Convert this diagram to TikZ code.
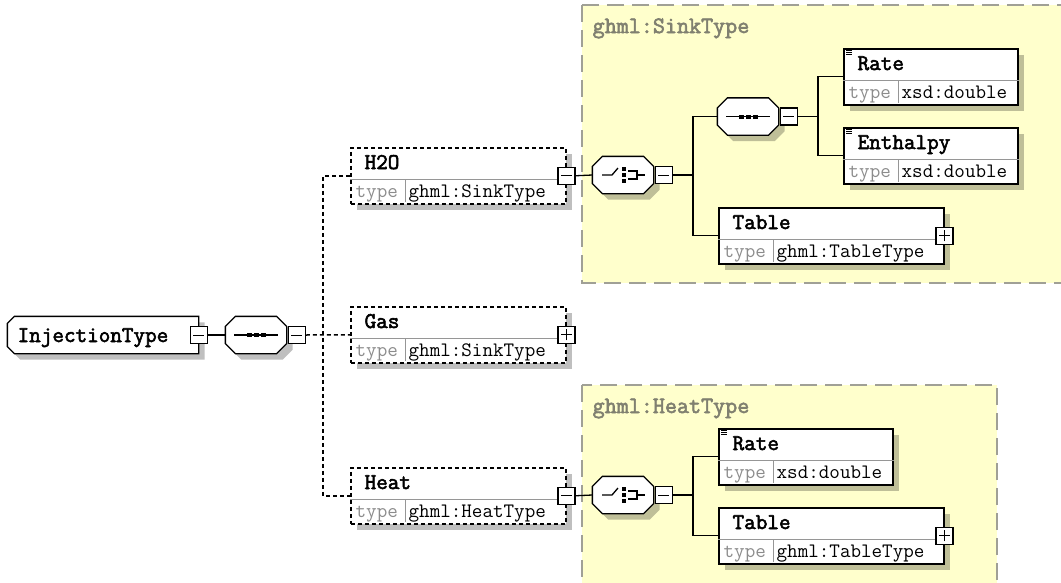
\documentclass[tikz,border=0pt]{standalone}
\usepackage{fontspec}
\newfontfamily\nmfont{Latin Modern Mono}[FakeBold=2.5]
\usetikzlibrary{calc,shadows}
\definecolor{tyellow}{RGB}{255,255,204}
\definecolor{tedge}{RGB}{160,160,150}
\definecolor{tlabc}{RGB}{128,128,112}
\definecolor{tgray}{RGB}{140,140,140}
\definecolor{splitc}{RGB}{150,150,150}

\begin{document}
\begin{tikzpicture}
      [x=1pt,y=-1pt,line width=1.3pt
      ,shad/.style={drop shadow={shadow xshift=6pt,shadow yshift=-6pt,opacity=.25,fill=black}}
      ,el/.style={rectangle,draw,fill=white,shad,anchor=north west,inner sep=0,minimum height=56pt}
      ,optel/.style={el,line width=1.5pt,dash pattern=on 4pt off 3pt}
      ,reqel/.style={el,line width=1.6pt}
      ,comp/.style={rectangle,inner sep=0,minimum width=60pt,minimum height=36pt}
      ,octo/.style={draw,fill=white,shad}
      ,btn/.style={rectangle,draw,fill=white,inner sep=0,minimum size=17pt}
      ,btnm/.style={btn,path picture={\draw[line width=1pt] ([xshift=3pt]path picture bounding box.west)
                   -- ([xshift=-3pt]path picture bounding box.east);}}
      ,btnp/.style={btnm,postaction={path picture={\draw[line width=1pt] ([yshift=3pt]path picture bounding box.south)
                   -- ([yshift=-3pt]path picture bounding box.north);}}}
      ,optl/.style={line width=1.5pt,dash pattern=on 4pt off 3pt}
      ,splitl/.style={draw=splitc,line width=1pt}
      ,nm/.style={font=\nmfont\fontsize{22.5pt}{22.5pt}\selectfont,inner sep=0,anchor=base west}
      ,tv/.style={font=\ttfamily\fontsize{20.5pt}{20.5pt}\selectfont,inner sep=0,anchor=base west}
      ,tp/.style={tv,text=tgray}
      ,tlab/.style={font=\nmfont\fontsize{23.4pt}{23.4pt}\selectfont,text=tlabc,inner sep=0,anchor=base west}
      ,tbox/.style={draw=tedge,fill=tyellow,line width=1.2pt,dash pattern=on 17pt off 8pt}]
        \useasboundingbox (0,0) rectangle (1061,582);
        % type boxes
        \draw[tbox] (582,5) rectangle (1075,283);
        \node[tlab] (sinkl) at (592,33) {ghml:SinkType};
        \draw[tbox] (582,385) rectangle (997,600);
        \node[tlab] (heatl) at (592,413) {ghml:HeatType};
        % root and compositors
        \node[comp,minimum width=190pt] (inj) at (103,335) {};
        \draw[octo] ($(inj.north west)+(7,0)$) -- (inj.north east) -- (inj.south east)
              -- ($(inj.south west)+(7,0)$) -- ($(inj.south west)+(0,-7)$)
              -- ($(inj.north west)+(0,7)$) -- cycle;
        \node[nm] (inj-n) at (17,342) {InjectionType};
        \node[btnm] (inj-b) at (inj.east) {};
        \node[comp] (seq0) at (256,335) {};
        \node[comp] (ch1) at (623,175) {};
        \node[comp] (seq1) at (748,116.5) {};
        \node[comp] (ch2) at (623,495) {};
        \foreach \c in {seq0,ch1,seq1,ch2}{
          \draw[octo] ($(\c.north west)+(10,0)$) -- ($(\c.north east)+(-10,0)$)
                -- ($(\c.north east)+(0,10)$) -- ($(\c.south east)+(0,-10)$)
                -- ($(\c.south east)+(-10,0)$) -- ($(\c.south west)+(10,0)$)
                -- ($(\c.south west)+(0,-10)$) -- ($(\c.north west)+(0,10)$) -- cycle;
          \node[btnm,anchor=west] (\c-b) at ([xshift=1pt]\c.east) {};
        }
        % elements
        \foreach \n/\x/\y/\w/\s/\lab/\typ in {
            h2o/350/147/215/optel/H2O/ghml:SinkType,
            gas/350/306/215/optel/Gas/ghml:SinkType,
            heat/350/467/215/optel/Heat/ghml:HeatType,
            rate1/843/48/174/reqel/Rate/xsd:double,
            enth/843/127/174/reqel/Enthalpy/xsd:double,
            tab1/718/207/225/reqel/Table/ghml:TableType,
            rate2/718/428/174/reqel/Rate/xsd:double,
            tab2/718/507/225/reqel/Table/ghml:TableType}{
          \node[\s,minimum width=\w pt] (\n) at (\x,\y) {};
          \draw[splitl] ($(\n.north west)+(0,32)$) -- ($(\n.north east)+(0,32)$);
          \draw[splitl] ($(\n.north west)+(55,32)$) -- ($(\n.north west)+(55,55)$);
          \node[nm] (\n-n) at ($(\n.north west)+(14,22)$) {\lab};
          \node[tp] (\n-t) at ($(\n.north west)+(5,50)$) {type};
          \node[tv] (\n-v) at ($(\n.north west)+(58,50)$) {\typ};
        }
        \node[btnm] (h2o-b) at (h2o.east) {};
        \node[btnp] (gas-b) at (gas.east) {};
        \node[btnm] (heat-b) at (heat.east) {};
        \node[btnp] (tab1-b) at (tab1.east) {};
        \node[btnp] (tab2-b) at (tab2.east) {};
        \foreach \n in {rate1,enth,rate2}
          \foreach \d in {2,4,6}
            \draw[line width=.8pt] ($(\n.north west)+(3,\d)$) -- ++(6,0);
        % connectors
        \draw (inj-b.east) -- (seq0.west);
        \draw[optl] (seq0-b.east) -- (gas.west);
        \draw[optl] (h2o.west) -- ++(-27,0) |- (heat.west);
        \draw (h2o-b.east) -- (ch1.west);
        \draw (ch1-b.east) -- ++(20,0) coordinate (ch1-f);
        \draw (seq1.west) -| (ch1-f) |- (tab1.west);
        \draw (seq1-b.east) -- ++(20,0) coordinate (seq1-f);
        \draw (rate1.west) -| (seq1-f) |- (enth.west);
        \draw (heat-b.east) -- (ch2.west);
        \draw (ch2-b.east) -- ++(20,0) coordinate (ch2-f);
        \draw (rate2.west) -| (ch2-f) |- (tab2.west);
        % compositor symbols
        \foreach \c in {seq0,seq1}{
          \draw (\c.center) ++(-22,0) -- ++(44,0);
          \foreach \d in {-7,0,7}
            \fill ($(\c.center)+(\d,0)$) +(-2.5,-2) rectangle +(2.5,2);
        }
        \foreach \c in {ch1,ch2}{
          \draw (\c.center) ++(-21,0) -- ++(10,0) -- ++(6,-7);
          \foreach \d in {-6.3,0,6.3}
            \fill ($(\c.center)+(0.7,\d)$) +(-2,-2) rectangle +(2,2);
          \draw ($(\c.center)+(5,-4)$) -- ++(9,0) -- ++(0,8) -- ++(-9,0);
          \draw ($(\c.center)+(14,0)$) -- ++(8,0);
        }
      \end{tikzpicture}
\end{document}
